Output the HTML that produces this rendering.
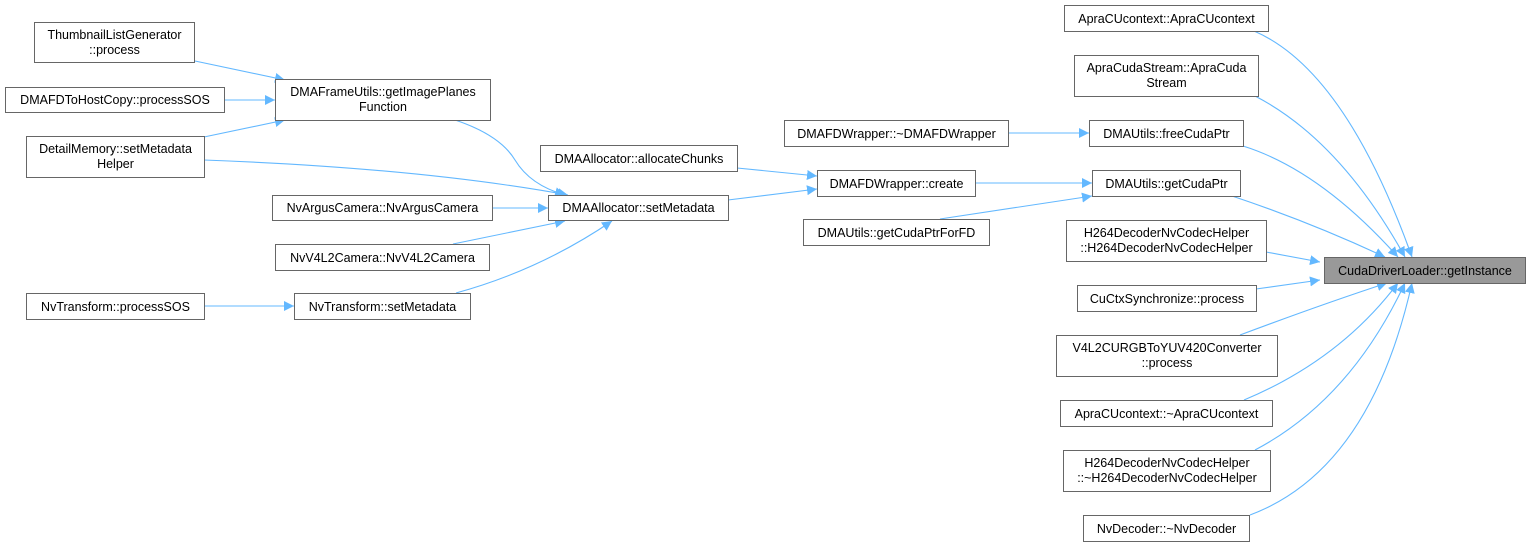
<!DOCTYPE html>
<html><head><meta charset="utf-8"><style>
html,body{margin:0;padding:0;background:#fff;}
svg{display:block;}
text{font-family:"Liberation Sans",Arial,sans-serif;font-size:12.5px;fill:#000;}
</style></head><body>
<svg width="1527" height="544" viewBox="0 0 1527 544" xmlns="http://www.w3.org/2000/svg">
<defs>
<marker id="a" viewBox="0 0 10 10" refX="10" refY="5" markerWidth="10" markerHeight="10" markerUnits="userSpaceOnUse" orient="auto">
<path d="M0,0 L10,5 L0,10 z" fill="#63b8ff"/>
</marker>
</defs>
<g fill="none" stroke="#63b8ff" stroke-width="1.1" marker-end="url(#a)">
<path d="M195,61 L285,80"/>
<path d="M224,100 L275,100"/>
<path d="M204,137 L285,120"/>
<path d="M204,160 Q420,168 568,195"/>
<path d="M455,120 Q500,135 515,160 Q530,185 565,195"/>
<path d="M492,208 L548,208"/>
<path d="M453,244 L565,221"/>
<path d="M204,306 L294,306"/>
<path d="M456,293 Q540,270 612,221"/>
<path d="M737,168 L817,176"/>
<path d="M728,200 L817,189"/>
<path d="M975,183 L1092,183"/>
<path d="M940,219 L1092,196"/>
<path d="M1008,133 L1089,133"/>
<path d="M1254,31 Q1345,70 1412,257"/>
<path d="M1255,96 Q1340,140 1405,257"/>
<path d="M1243,146 Q1320,170 1398,257"/>
<path d="M1232,196 Q1310,222 1385,257"/>
<path d="M1266,252 L1320,262"/>
<path d="M1256,289 L1320,280"/>
<path d="M1240,335 Q1320,305 1387,283"/>
<path d="M1244,400 Q1340,360 1398,283"/>
<path d="M1255,450 Q1350,400 1405,283"/>
<path d="M1250,515 Q1370,470 1412,283"/>
</g>
<g fill="#fff" stroke="#666" stroke-width="1">
<rect x="34.5" y="22.5" width="160" height="40"/>
<rect x="5.5" y="87.5" width="219" height="25"/>
<rect x="26.5" y="136.5" width="178" height="41"/>
<rect x="275.5" y="79.5" width="215" height="41"/>
<rect x="540.5" y="145.5" width="197" height="26"/>
<rect x="548.5" y="195.5" width="180" height="25"/>
<rect x="272.5" y="195.5" width="220" height="25"/>
<rect x="275.5" y="244.5" width="214" height="26"/>
<rect x="26.5" y="293.5" width="178" height="26"/>
<rect x="294.5" y="293.5" width="176" height="26"/>
<rect x="1064.5" y="5.5" width="204" height="26"/>
<rect x="1074.5" y="55.5" width="184" height="41"/>
<rect x="784.5" y="120.5" width="224" height="26"/>
<rect x="1089.5" y="120.5" width="154" height="26"/>
<rect x="817.5" y="170.5" width="158" height="26"/>
<rect x="1092.5" y="170.5" width="148" height="26"/>
<rect x="803.5" y="219.5" width="186" height="26"/>
<rect x="1066.5" y="220.5" width="200" height="41"/>
<rect x="1324.5" y="257.5" width="201" height="26" fill="#999"/>
<rect x="1077.5" y="285.5" width="179" height="26"/>
<rect x="1056.5" y="335.5" width="221" height="41"/>
<rect x="1060.5" y="400.5" width="212" height="26"/>
<rect x="1063.5" y="450.5" width="207" height="41"/>
<rect x="1083.5" y="515.5" width="166" height="26"/>
</g>
<g text-anchor="middle">
<text x="114.5" y="39">ThumbnailListGenerator</text>
<text x="114.5" y="54">::process</text>
<text x="115" y="104">DMAFDToHostCopy::processSOS</text>
<text x="115.5" y="153">DetailMemory::setMetadata</text>
<text x="115.5" y="168">Helper</text>
<text x="383" y="96">DMAFrameUtils::getImagePlanes</text>
<text x="383" y="111">Function</text>
<text x="639" y="163">DMAAllocator::allocateChunks</text>
<text x="638.5" y="212">DMAAllocator::setMetadata</text>
<text x="382.5" y="212">NvArgusCamera::NvArgusCamera</text>
<text x="382.5" y="262">NvV4L2Camera::NvV4L2Camera</text>
<text x="115.5" y="311">NvTransform::processSOS</text>
<text x="382.5" y="311">NvTransform::setMetadata</text>
<text x="1166.5" y="23">ApraCUcontext::ApraCUcontext</text>
<text x="1166.5" y="72">ApraCudaStream::ApraCuda</text>
<text x="1166.5" y="87">Stream</text>
<text x="896.5" y="138">DMAFDWrapper::~DMAFDWrapper</text>
<text x="1166.5" y="138">DMAUtils::freeCudaPtr</text>
<text x="896.5" y="188">DMAFDWrapper::create</text>
<text x="1166.5" y="188">DMAUtils::getCudaPtr</text>
<text x="896.5" y="237">DMAUtils::getCudaPtrForFD</text>
<text x="1166.5" y="237">H264DecoderNvCodecHelper</text>
<text x="1166.5" y="252">::H264DecoderNvCodecHelper</text>
<text x="1425" y="275">CudaDriverLoader::getInstance</text>
<text x="1167" y="303">CuCtxSynchronize::process</text>
<text x="1167" y="352">V4L2CURGBToYUV420Converter</text>
<text x="1167" y="367">::process</text>
<text x="1166.5" y="418">ApraCUcontext::~ApraCUcontext</text>
<text x="1167" y="467">H264DecoderNvCodecHelper</text>
<text x="1167" y="482">::~H264DecoderNvCodecHelper</text>
<text x="1166.5" y="533">NvDecoder::~NvDecoder</text>
</g>
</svg>
</body></html>
